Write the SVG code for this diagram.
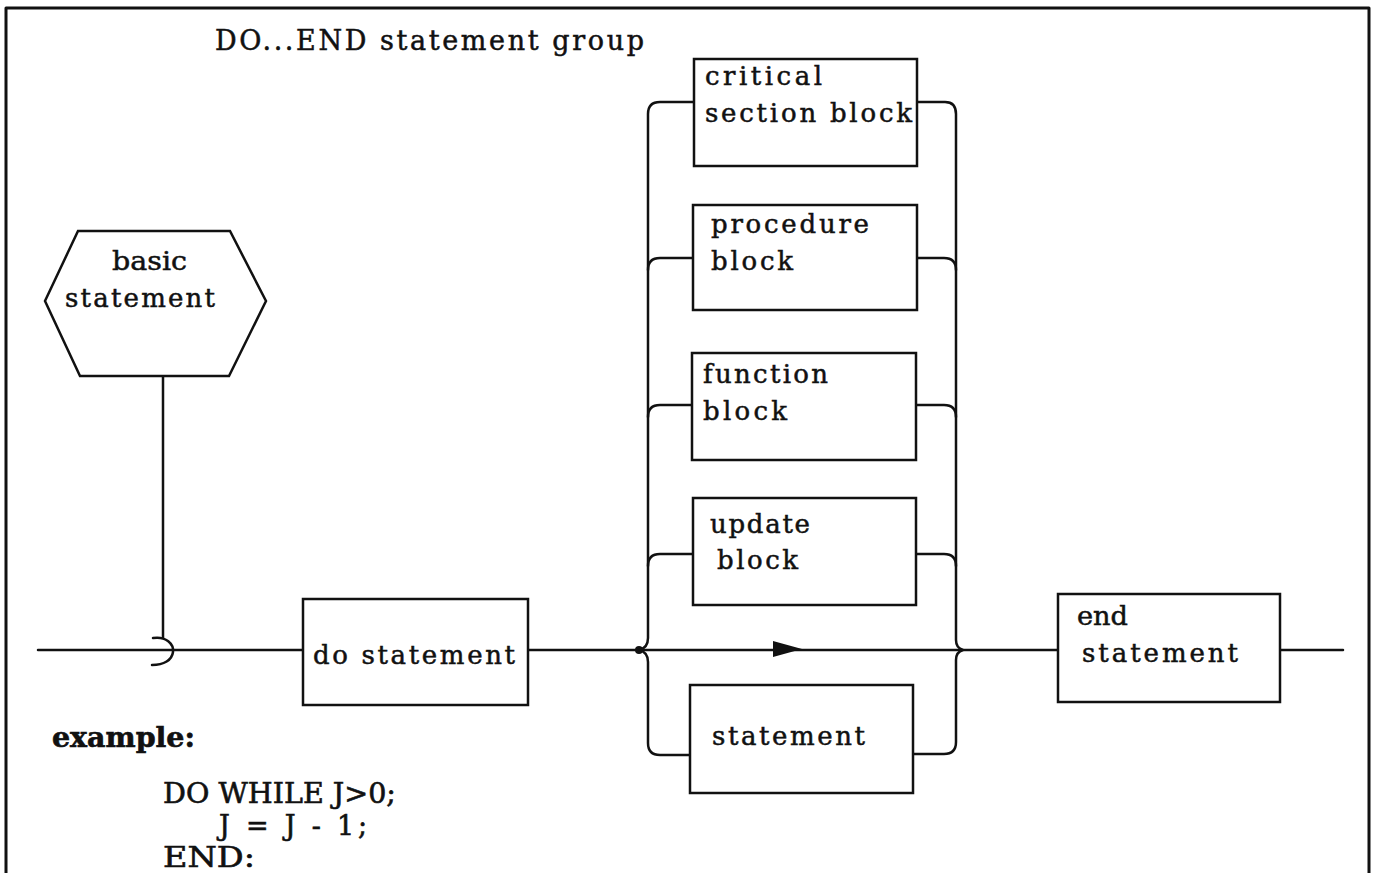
<svg xmlns="http://www.w3.org/2000/svg" width="1374" height="873" viewBox="0 0 1374 873">
<style>
.ln{fill:none;stroke:#111;stroke-width:2.5;stroke-linecap:round;stroke-linejoin:round}
.bx{fill:#fff;stroke:#111;stroke-width:2.5}
.t{font-family:"DejaVu Serif","Liberation Serif",serif;font-size:26px;fill:#111;stroke:#111;stroke-width:0.5}
.ti{font-family:"DejaVu Serif","Liberation Serif",serif;font-size:27px;fill:#111;stroke:#111;stroke-width:0.5}
.ex{font-family:"DejaVu Serif","Liberation Serif",serif;font-size:27px;fill:#111;stroke:#111;stroke-width:0.6}
</style>
<rect width="1374" height="873" fill="#fff"/>
<g id="frame">
<path class="ln" d="M6,873 L6,8 L1369,8 L1369,873" style="stroke-width:3"/>
</g>
<text class="ti" x="215" y="50" textLength="429" lengthAdjust="spacing">DO...END statement group</text>
<g id="connectors">
<path class="ln" d="M163,376 L163,638"/>
<path class="ln" d="M153,638 C166,636 174,644 173,652 C172,660 164,665 152,665"/>
<path class="ln" d="M38,650 L303,650"/>
<path class="ln" d="M528,650 L1058,650"/>
<path class="ln" d="M1281,650 L1343,650"/>
<circle cx="639" cy="650" r="4" fill="#111"/>
<polygon points="773,641 802,649 773,657" fill="#111"/>
<path class="ln" d="M694,102 L660,102 Q648,102 648,114 L648,638 Q648,648 639,650 Q648,652 648,662 L648,743 Q648,755 660,755 L690,755"/>
<path class="ln" d="M648,270 Q648,258 660,258 L692,258"/>
<path class="ln" d="M648,417 Q648,405 660,405 L692,405"/>
<path class="ln" d="M648,566 Q648,554 660,554 L693,554"/>
<path class="ln" d="M917,102 L945,102 Q956,102 956,114 L956,640 Q956,648 963,650 Q956,652 956,660 L956,742 Q956,754 944,754 L913,754"/>
<path class="ln" d="M917,258 L944,258 Q956,258 956,270"/>
<path class="ln" d="M916,405 L944,405 Q956,405 956,417"/>
<path class="ln" d="M916,554 L944,554 Q956,554 956,566"/>
</g>
<g id="basic-statement">
<polygon class="bx" points="78,231 230,231 266,301 229,376 80,376 45,301"/>
<text class="t" x="112" y="270" textLength="75" lengthAdjust="spacingAndGlyphs">basic</text>
<text class="t" x="65" y="307" textLength="150" lengthAdjust="spacing">statement</text>
</g>
<g id="do-statement">
<rect class="bx" x="303" y="599" width="225" height="106"/>
<text class="t" x="313" y="664" textLength="202" lengthAdjust="spacing">do statement</text>
</g>
<g id="critical-section-block">
<rect class="bx" x="694" y="59" width="223" height="107"/>
<text class="t" x="705" y="85" textLength="117" lengthAdjust="spacing">critical</text>
<text class="t" x="705" y="122" textLength="207" lengthAdjust="spacing">section block</text>
</g>
<g id="procedure-block">
<rect class="bx" x="693" y="205" width="224" height="105"/>
<text class="t" x="711" y="233" textLength="158" lengthAdjust="spacing">procedure</text>
<text class="t" x="711" y="270" textLength="82" lengthAdjust="spacing">block</text>
</g>
<g id="function-block">
<rect class="bx" x="692" y="353" width="224" height="107"/>
<text class="t" x="703" y="383" textLength="125" lengthAdjust="spacing">function</text>
<text class="t" x="703" y="420" textLength="84" lengthAdjust="spacing">block</text>
</g>
<g id="update-block">
<rect class="bx" x="693" y="498" width="223" height="107"/>
<text class="t" x="710" y="533" textLength="100" lengthAdjust="spacing">update</text>
<text class="t" x="717" y="569" textLength="81" lengthAdjust="spacing">block</text>
</g>
<g id="statement">
<rect class="bx" x="690" y="685" width="223" height="108"/>
<text class="t" x="712" y="745" textLength="153" lengthAdjust="spacing">statement</text>
</g>
<g id="end-statement">
<rect class="bx" x="1058" y="594" width="222" height="108"/>
<text class="t" x="1077" y="625" textLength="51" lengthAdjust="spacingAndGlyphs">end</text>
<text class="t" x="1082" y="662" textLength="156" lengthAdjust="spacing">statement</text>
</g>
<g id="example">
<text class="ex" x="52" y="747" font-weight="bold" textLength="143" lengthAdjust="spacingAndGlyphs">example:</text>
<text class="ex" x="163" y="803" textLength="233" lengthAdjust="spacingAndGlyphs">DO WHILE J&gt;0;</text>
<text class="ex" x="219" y="835" textLength="148" lengthAdjust="spacing">J = J - 1;</text>
<text class="ex" x="163" y="867" textLength="92" lengthAdjust="spacingAndGlyphs">END:</text>
</g>
</svg>
